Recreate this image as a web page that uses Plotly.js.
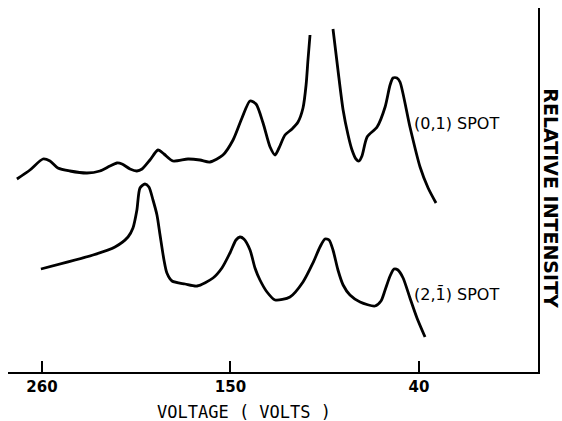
<!DOCTYPE html>
<html>
<head>
<meta charset="utf-8">
<script src="https://cdn.plot.ly/plotly-3.0.1.min.js"></script>
<style>html,body{margin:0;padding:0;background:#fff;}#chart{width:562px;height:421px;}</style>
</head>
<body>
<div id="chart"></div>
<script>
// Voltage (V) and relative intensity (arbitrary units)
const spot01Voltage = [274.6, 267.0, 259.4, 255.3, 250.7, 243.7, 233.7, 226.2, 220.3, 216.2, 213.3, 208.6, 204.6, 201.6, 197.0, 192.3, 188.8, 183.6, 174.8, 167.8, 162.0, 154.4, 148.5, 143.3, 138.6, 135.1, 131.0, 126.9, 124.0, 121.7, 118.2, 114.1, 110.6, 107.7, 105.9, 104.8, 103.6,
  97.0,
  90.2, 87.3, 84.3, 81.4, 79.1, 76.8, 75.0, 73.3, 70.3, 64.5, 59.8, 56.9, 55.2, 52.9, 51.1, 45.3, 39.4, 34.7, 30.1];
const spot01Intensity = [19.4, 20.3, 21.4, 21.2, 20.5, 20.2, 20.0, 20.2, 20.7, 21.0, 20.9, 20.4, 20.2, 20.4, 21.3, 22.3, 21.9, 21.2, 21.4, 21.3, 21.1, 21.8, 23.3, 25.5, 27.2, 26.9, 25.0, 22.6, 21.8, 22.5, 23.8, 24.4, 25.1, 26.5, 28.8, 31.3, 33.8,
  null,
  34.4, 30.3, 26.3, 23.8, 22.3, 21.4, 21.2, 21.7, 23.6, 24.6, 26.6, 28.8, 29.5, 29.5, 29.1, 24.6, 20.6, 18.5, 17.0];

const spot21Voltage = [260.6, 230.2, 217.4, 209.8, 206.9, 204.6, 202.8, 199.9, 197.6, 195.2, 192.9, 191.1, 188.8, 187.1, 184.1, 176.5, 169.5, 160.2, 155.0, 150.3, 146.8, 144.5, 142.2, 138.6, 135.7, 132.8, 128.7, 124.0, 115.3, 107.7, 101.9, 97.8, 94.9, 92.5, 90.2, 87.3, 84.3, 80.3, 74.4, 65.7, 62.2, 59.8, 56.9, 54.6, 52.3, 49.3, 45.3, 41.2, 36.5];
const spot21Intensity = [10.4, 11.8, 12.6, 13.6, 14.5, 16.3, 18.5, 18.9, 18.6, 17.3, 15.8, 13.8, 11.3, 10.0, 9.2, 8.9, 8.7, 9.5, 10.5, 12.0, 13.3, 13.6, 13.4, 12.3, 10.5, 9.3, 8.1, 7.3, 7.6, 9.1, 11.0, 12.6, 13.4, 13.3, 12.3, 10.3, 8.8, 7.8, 7.1, 6.7, 7.2, 8.3, 9.7, 10.4, 10.3, 9.5, 7.5, 5.5, 3.6];

const tickValues = [260, 150, 40];
const tickLabels = ['260', '150', '40'];
const seriesNames = ['(0,1) SPOT', '(2,1\u0304) SPOT'];

const lineStyle = {color: '#000', width: 2.8, shape: 'spline', smoothing: 0.7};
const FONT = 'DejaVu Sans, Liberation Sans, sans-serif';

const traces = [
  {x: spot01Voltage, y: spot01Intensity, name: seriesNames[0], mode: 'lines', line: lineStyle, connectgaps: false, hoverinfo: 'skip'},
  {x: spot21Voltage, y: spot21Intensity, name: seriesNames[1], mode: 'lines', line: lineStyle, hoverinfo: 'skip'}
];

const layout = {
  width: 562, height: 421,
  margin: {l: 8, r: 24, t: 8, b: 49},
  paper_bgcolor: '#fff', plot_bgcolor: '#fff',
  showlegend: false,
  font: {family: FONT, color: '#000'},
  xaxis: {
    range: [279.8, -29.4],
    tickvals: tickValues, ticktext: tickLabels,
    ticks: 'inside', ticklen: 11, tickwidth: 2, tickcolor: '#000',
    tickfont: {family: FONT, size: 15, color: '#000', weight: 'bold'},
    showline: true, linecolor: '#000', linewidth: 2,
    showgrid: false, zeroline: false
  },
  yaxis: {
    range: [0.1, 36.5],
    side: 'right',
    showline: true, linecolor: '#000', linewidth: 2,
    showticklabels: false, ticks: '',
    showgrid: false, zeroline: false
  },
  annotations: [
    {xref: 'paper', yref: 'paper', x: 0.762, y: 0.684, xanchor: 'left', yanchor: 'middle',
     text: seriesNames[0], showarrow: false, font: {family: FONT, size: 16, color: '#000'}},
    {xref: 'paper', yref: 'paper', x: 0.762, y: 0.214, xanchor: 'left', yanchor: 'middle',
     text: seriesNames[1], showarrow: false, font: {family: FONT, size: 16, color: '#000'}},
    {xref: 'paper', yref: 'paper', x: 1.024, y: 0.478, xanchor: 'center', yanchor: 'middle',
     text: 'RELATIVE INTENSITY', textangle: 90, showarrow: false,
     font: {family: FONT, size: 19, color: '#000', weight: 'bold'}},
    {xref: 'paper', yref: 'paper', x: 0.445, y: -0.110, xanchor: 'center', yanchor: 'middle',
     text: 'VOLTAGE ( VOLTS )', showarrow: false, font: {family: 'DejaVu Sans Mono, monospace', size: 17, color: '#000'}}
  ]
};

Plotly.newPlot('chart', traces, layout, {displayModeBar: false, staticPlot: true});
</script>
</body>
</html>
